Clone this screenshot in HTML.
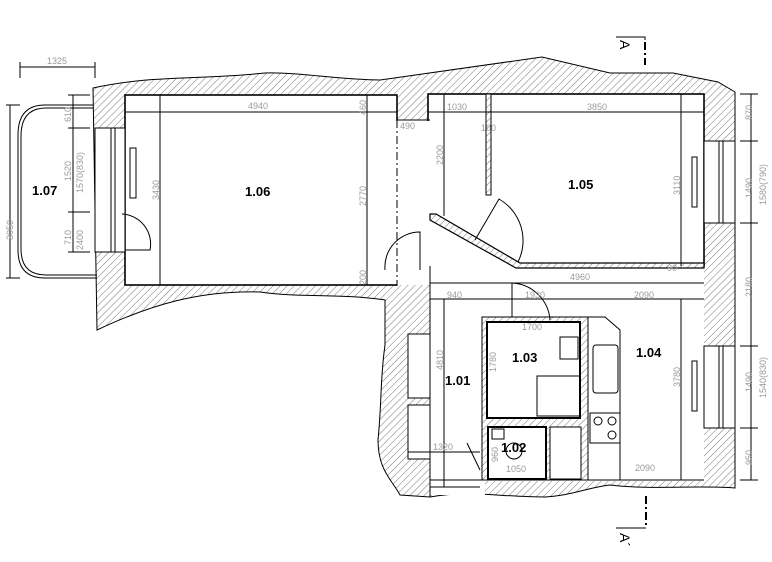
<!DOCTYPE html>
<html><head><meta charset="utf-8"><style>
html,body{margin:0;padding:0;background:#fff;}
svg{display:block;}
.d{font-family:"Liberation Sans",sans-serif;font-size:9px;fill:#9a9a9a;}
.r{font-family:"Liberation Sans",sans-serif;font-size:13px;font-weight:bold;fill:#000;}
</style></head><body>
<svg width="772" height="562" viewBox="0 0 772 562" xmlns="http://www.w3.org/2000/svg">
<defs>
<pattern id="h" patternUnits="userSpaceOnUse" width="5" height="5" patternTransform="rotate(45)">
<rect width="5" height="5" fill="#fff"/><line x1="0" y1="0" x2="0" y2="5" stroke="#555" stroke-width="0.8"/>
</pattern>
</defs>
<rect width="772" height="562" fill="#fff"/>
<path d="M93,88 C150,75 200,80 265,73 C300,72 340,80 380,80 L542,57 L610,73 L673,73 L718,82 L735,92 L735,488 C700,485 650,490 610,485 C590,487 570,496 545,497 C500,497 470,490 430,497 L400,495 C392,480 378,470 378,440 C382,400 380,380 385,345 L385,300 C340,293 300,298 260,292 C200,290 150,305 97,330 Z" fill="url(#h)" stroke="#000" stroke-width="1"/>
<g fill="#fff" stroke="#000" stroke-width="1.6">
<rect x="125" y="95" width="272" height="190"/>
<rect x="95" y="128" width="30" height="124" stroke-width="1"/>
<rect x="397" y="120" width="33" height="165" stroke="none"/>
<rect x="428" y="94" width="276" height="172"/>
<rect x="704" y="141" width="31" height="82" stroke-width="1"/>
<rect x="430" y="266" width="274" height="215" stroke="none"/>
<rect x="430" y="478" width="55" height="17" stroke="none"/>
<rect x="704" y="346" width="31" height="82" stroke-width="1"/>
<rect x="408" y="334" width="22" height="64" stroke-width="1"/>
<rect x="408" y="405" width="22" height="54" stroke-width="1"/>
</g>
<rect x="396" y="121" width="36" height="163" fill="#fff"/>
<rect x="429" y="265" width="274" height="4" fill="#fff"/>
<polygon points="430,214 436,214 520,263 704,263 704,268 516,268 430,220" fill="url(#h)" stroke="#000" stroke-width="1.2"/>
<rect x="482" y="317" width="106" height="163" fill="url(#h)" stroke="#000" stroke-width="1"/>
<rect x="487" y="322" width="93" height="96" fill="#fff" stroke="#000" stroke-width="2"/>
<rect x="488" y="427" width="58" height="52" fill="#fff" stroke="#000" stroke-width="2"/>
<rect x="550" y="427" width="31" height="52" fill="#fff" stroke="#000" stroke-width="1"/>
<g fill="none" stroke="#000" stroke-width="1">
<line x1="397" y1="95" x2="397" y2="120"/>
<line x1="397" y1="120" x2="430" y2="120"/>
<line x1="397" y1="120" x2="397" y2="285" stroke-dasharray="8,3,2,3"/>
<line x1="430" y1="266" x2="430" y2="497"/>
<line x1="444" y1="94" x2="444" y2="216"/>
<rect x="486" y="94" width="5" height="101" fill="url(#h)"/>
<line x1="160" y1="95" x2="160" y2="285"/>
<line x1="125" y1="112" x2="397" y2="112"/>
<line x1="367" y1="95" x2="367" y2="285"/>
<line x1="428" y1="112" x2="704" y2="112"/>
<line x1="681" y1="94" x2="681" y2="266"/>
<line x1="430" y1="283" x2="704" y2="283"/>
<line x1="430" y1="299" x2="704" y2="299"/>
<line x1="681" y1="299" x2="681" y2="480"/>
<line x1="430" y1="480" x2="704" y2="480"/>
<line x1="444" y1="299" x2="444" y2="487"/>
<line x1="408" y1="452" x2="480" y2="452"/>
<line x1="430" y1="487" x2="480" y2="487"/>
<polyline points="588,317 605,317 620,330 620,480"/>
<rect x="593" y="345" width="25" height="48" rx="3"/>
<rect x="590" y="413" width="30" height="30"/>
<circle cx="598" cy="421" r="4"/><circle cx="612" cy="421" r="4"/><circle cx="612" cy="435" r="4"/>
<rect x="560" y="337" width="18" height="22"/>
<rect x="537" y="376" width="43" height="40"/>
<rect x="492" y="429" width="12" height="10"/>
<circle cx="514" cy="451" r="8"/>
<rect x="130" y="148" width="6" height="50"/>
<rect x="692" y="157" width="5" height="50"/>
<rect x="692" y="361" width="5" height="50"/>
<line x1="719" y1="141" x2="719" y2="223"/><line x1="723" y1="141" x2="723" y2="223"/>
<line x1="719" y1="346" x2="719" y2="428"/><line x1="723" y1="346" x2="723" y2="428"/>
<line x1="111" y1="128" x2="111" y2="252"/><line x1="115" y1="128" x2="115" y2="252"/>
<path d="M125,250 L150,250 A30,30 0 0 0 122,214"/>
<path d="M385,270 A35,35 0 0 1 420,232 L420,270"/>
<path d="M475,240 L499,199 A48,48 0 0 1 518,262"/>
<path d="M512,283 L512,317 M512,283 A40,40 0 0 1 550,320"/>
<path d="M467,443 L480,470"/>
<path d="M93,105 L45,105 Q18,105 18,135 L18,250 Q18,278 45,278 L97,278"/>
<path d="M93,108 L46,108 Q21,108 21,136 L21,249 Q21,275 46,275 L97,275"/>
<line x1="20" y1="67" x2="95" y2="67"/><line x1="20" y1="62" x2="20" y2="78"/><line x1="95" y1="62" x2="95" y2="78"/>
<line x1="10" y1="105" x2="10" y2="278"/><line x1="6" y1="105" x2="20" y2="105"/><line x1="6" y1="278" x2="20" y2="278"/>
<line x1="73" y1="95" x2="73" y2="252"/><line x1="68" y1="95" x2="90" y2="95"/><line x1="68" y1="128" x2="90" y2="128"/><line x1="68" y1="212" x2="90" y2="212"/><line x1="68" y1="252" x2="90" y2="252"/>
<line x1="751" y1="94" x2="751" y2="480"/>
<line x1="740" y1="141" x2="758" y2="141"/><line x1="740" y1="223" x2="758" y2="223"/><line x1="740" y1="346" x2="758" y2="346"/><line x1="740" y1="428" x2="758" y2="428"/><line x1="740" y1="480" x2="758" y2="480"/><line x1="740" y1="94" x2="758" y2="94"/>
<polyline points="616,37 645,37 645,40"/><line x1="645" y1="42" x2="645" y2="65" stroke-width="2" stroke-dasharray="8,3,2,3"/>
<line x1="646" y1="496" x2="646" y2="528" stroke-width="2" stroke-dasharray="8,3,2,3"/><polyline points="616,528 646,528"/>
</g>
<text class="d" x="47" y="64">1325</text>
<text class="d" x="248" y="109">4940</text>
<text class="d" x="400" y="129">490</text>
<text class="d" x="447" y="110">1030</text>
<text class="d" x="587" y="110">3850</text>
<text class="d" x="481" y="131">100</text>
<text class="d" x="570" y="280">4960</text>
<text class="d" x="447" y="298">940</text>
<text class="d" x="525" y="298">1930</text>
<text class="d" x="634" y="298">2090</text>
<text class="d" x="522" y="330">1700</text>
<text class="d" x="433" y="450">1320</text>
<text class="d" x="506" y="472">1050</text>
<text class="d" x="635" y="471">2090</text>
<text class="d" x="667" y="271">90</text>
<g class="d">
<text transform="translate(13,240) rotate(-90)">3050</text>
<text transform="translate(71,122) rotate(-90)">610</text>
<text transform="translate(71,181) rotate(-90)">1520</text>
<text transform="translate(83,193) rotate(-90)">1570(830)</text>
<text transform="translate(71,245) rotate(-90)">710</text>
<text transform="translate(83,250) rotate(-90)">2400</text>
<text transform="translate(159,200) rotate(-90)">3430</text>
<text transform="translate(366,115) rotate(-90)">460</text>
<text transform="translate(366,206) rotate(-90)">2770</text>
<text transform="translate(366,285) rotate(-90)">200</text>
<text transform="translate(443,165) rotate(-90)">2200</text>
<text transform="translate(680,195) rotate(-90)">3110</text>
<text transform="translate(443,370) rotate(-90)">4810</text>
<text transform="translate(496,372) rotate(-90)">1780</text>
<text transform="translate(680,387) rotate(-90)">3780</text>
<text transform="translate(498,462) rotate(-90)">960</text>
<text transform="translate(752,120) rotate(-90)">870</text>
<text transform="translate(752,198) rotate(-90)">1490</text>
<text transform="translate(766,205) rotate(-90)">1580(790)</text>
<text transform="translate(752,297) rotate(-90)">2180</text>
<text transform="translate(752,392) rotate(-90)">1490</text>
<text transform="translate(766,398) rotate(-90)">1540(830)</text>
<text transform="translate(752,465) rotate(-90)">950</text>
</g>
<text transform="translate(620,40) rotate(90)" font-family="Liberation Sans,sans-serif" font-size="14">A</text>
<text transform="translate(620,533) rotate(90)" font-family="Liberation Sans,sans-serif" font-size="14">A´</text>
<text class="r" x="32" y="195">1.07</text>
<text class="r" x="245" y="196">1.06</text>
<text class="r" x="568" y="189">1.05</text>
<text class="r" x="512" y="362">1.03</text>
<text class="r" x="636" y="357">1.04</text>
<text class="r" x="445" y="385">1.01</text>
<text class="r" x="501" y="452">1.02</text>
</svg>
</body></html>
